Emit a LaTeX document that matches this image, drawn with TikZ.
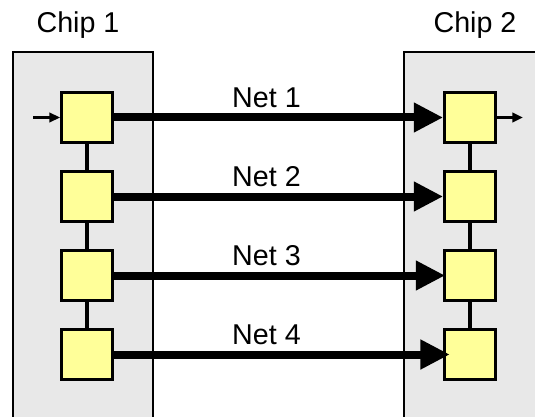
\documentclass[tikz,border=0pt]{standalone}
\usepackage{fontspec}
\setmainfont{Liberation Sans}
\usepackage{tikz}
\usetikzlibrary{positioning,arrows.meta}

\definecolor{chipgray}{HTML}{E8E8E8}
\definecolor{celly}{HTML}{FFFF99}

\begin{document}
\begin{tikzpicture}[x=0.75pt, y=-0.75pt,
		font=\fontsize{21.5}{24}\selectfont,
		cell/.style={draw, line width=2.3pt, fill=celly, minimum size=38pt, inner sep=0pt},
		link/.style={line width=2.3pt},
		net/.style={line width=6pt, -{Triangle[length=22pt, width=21pt]}},
		pin/.style={line width=2pt, -{Triangle[length=8pt, width=7pt]}},
		lbl/.style={anchor=base, inner sep=0pt}]
		\useasboundingbox (0,0) rectangle (535,417);
		\begin{scope}
			\clip (0,0) rectangle (535,417);
			\draw[line width=2pt, fill=chipgray] (13,52) rectangle (153,440);
			\draw[line width=2pt, fill=chipgray] (404,52) rectangle (560,440);
		\end{scope}
		
		\node[lbl] (chipA) at (78,33) {Chip 1};
		\node[lbl] (chipB) at (475,33) {Chip 2};
		
		% scan cells on both sides
		\foreach \i/\yy in {1/117.5, 2/196.5, 3/275.5, 4/354.5} {
			\node[cell] (a\i) at (87,\yy) {};
			\node[cell] (b\i) at (470,\yy) {};
		}
		\foreach \i/\j in {1/2, 2/3, 3/4} {
			\draw[link] (a\i.south) -- (a\j.north);
			\draw[link] (b\i.south) -- (b\j.north);
		}
		
		% nets between the chips
		\foreach \i/\ext in {1/0, 2/0, 3/1.5, 4/5} {
			\draw[net, shorten >=-\ext pt] (a\i.east) -- (b\i.west);
			\path (a\i.east) -- (b\i.west) node[lbl, pos=0.5, xshift=-9pt, yshift=7.8pt] (n\i) {Net \i};
		}
		
		\coordinate (scanin) at (33,117.5);
		\coordinate (scanout) at (523,117.5);
		\draw[pin] (scanin) -- (a1.west);
		\draw[pin] (b1.east) -- (scanout);
	\end{tikzpicture}
\end{document}
